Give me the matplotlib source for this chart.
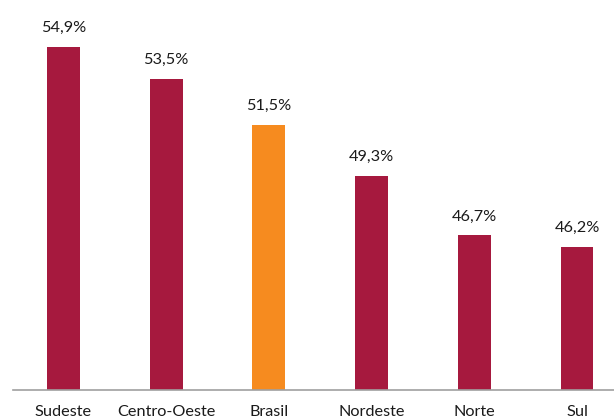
import matplotlib.pyplot as plt

# Dados por região
regioes = ['Sudeste', 'Centro-Oeste', 'Brasil', 'Nordeste', 'Norte', 'Sul']
valores = [54.9, 53.5, 51.5, 49.3, 46.7, 46.2]
rotulos = ['54,9%', '53,5%', '51,5%', '49,3%', '46,7%', '46,2%']

cor_regiao = '#A6193E'
cor_brasil = '#F68B1F'
cores = [cor_brasil if r == 'Brasil' else cor_regiao for r in regioes]

plt.rcParams['font.family'] = ['Lato', 'DejaVu Sans']

fig = plt.figure(figsize=(6.14, 4.19), dpi=100)
ax = fig.add_axes([13 / 614, 29.5 / 419, 1 - 13 / 614, 1 - 29.5 / 419])

x = range(len(regioes))
ax.bar(x, [v - 40 for v in valores], bottom=40, width=0.32, color=cores)

for i, (v, txt) in enumerate(zip(valores, rotulos)):
    ax.annotate(txt, (i, v), xytext=(0, 8.5), textcoords='offset points',
                ha='center', va='bottom', fontsize=11.7, color='#1a1a1a')

ax.set_xlim(-0.49, 5.36)
ax.set_ylim(40, 56.93)
ax.set_xticks(list(x))
ax.set_xticklabels(regioes, fontsize=11.7, color='#1a1a1a')
ax.tick_params(axis='x', length=0, pad=11)
ax.set_yticks([])

for s in ['top', 'right', 'left']:
    ax.spines[s].set_visible(False)
ax.spines['bottom'].set_color('#A0A0A0')
ax.spines['bottom'].set_linewidth(1.2)

fig.savefig('out.png', dpi=100)
